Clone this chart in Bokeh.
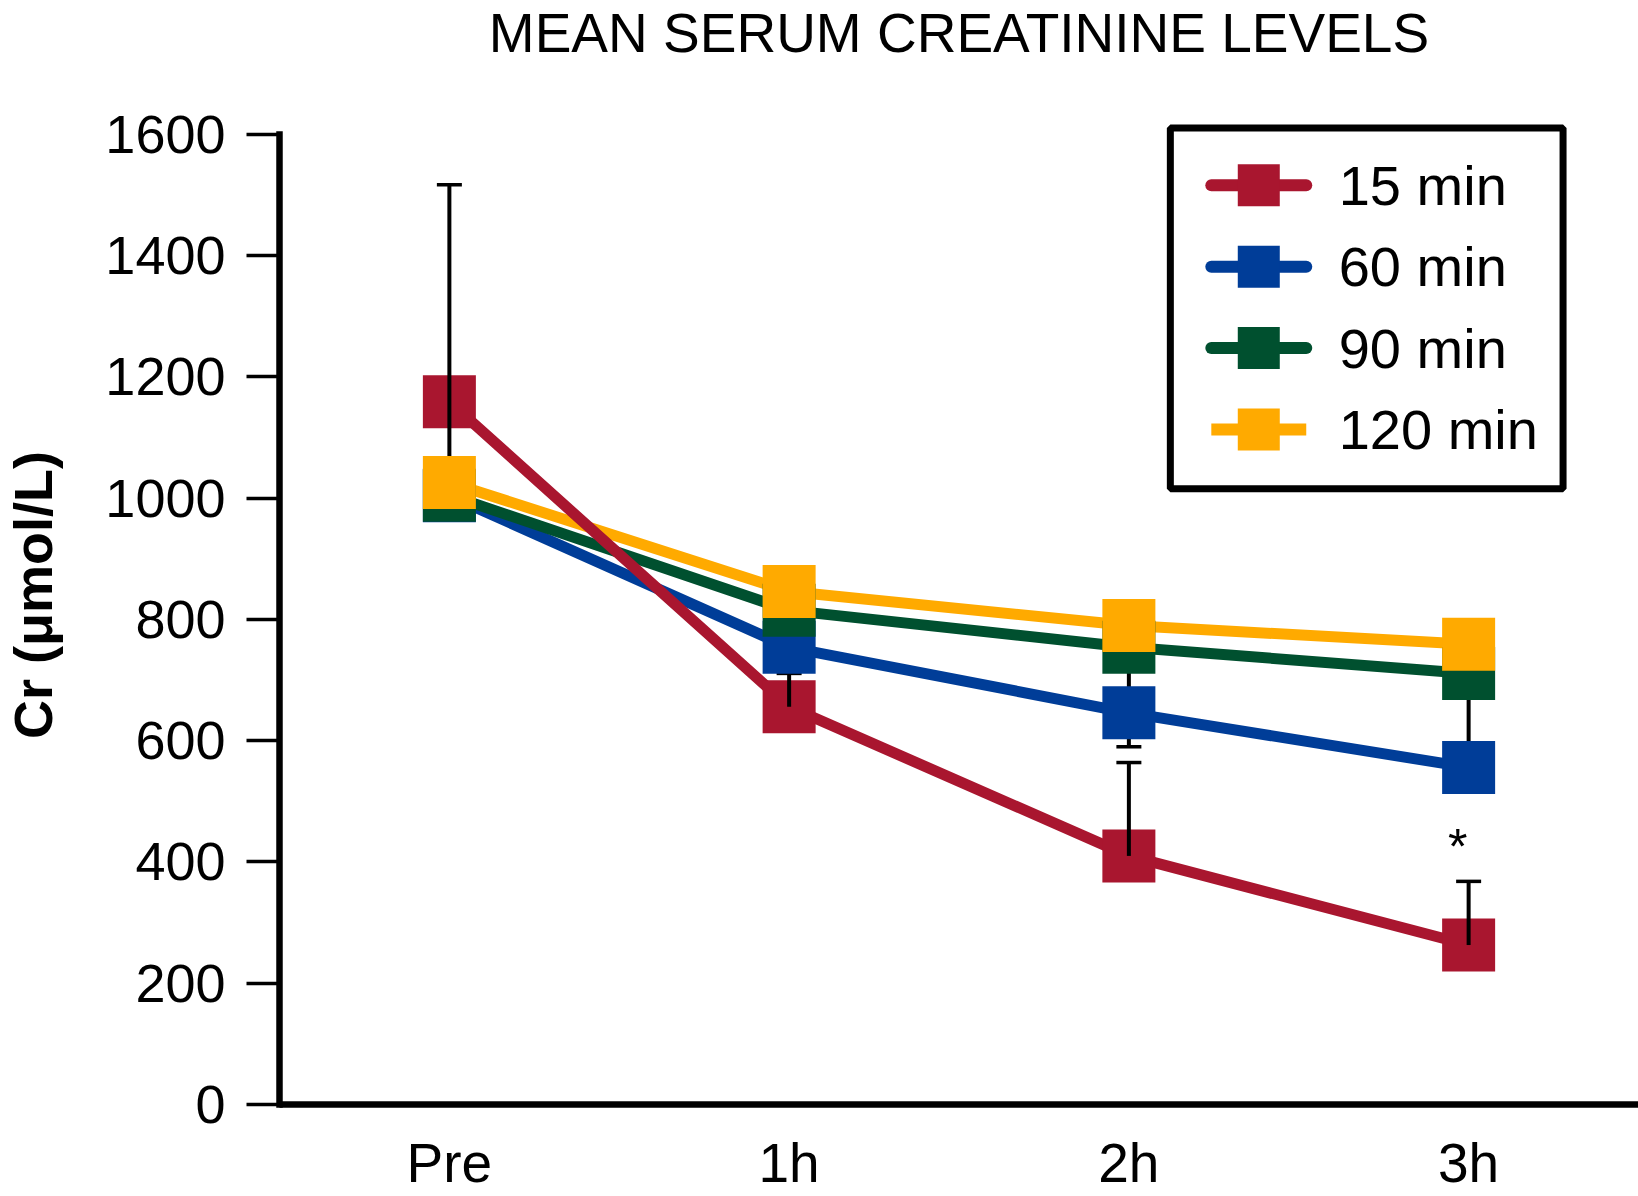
import numpy as np
from bokeh.plotting import figure
from bokeh.models import Range1d, FixedTicker, Title
from bokeh.embed import file_html
from bokeh.resources import INLINE
from bokeh.core.properties import value

# ---------------- data ----------------
timepoints = ["Pre", "1h", "2h", "3h"]
series_names = ["15 min", "60 min", "90 min", "120 min"]
cr_15 = [1159, 656, 410, 263]
cr_60 = [1004, 754, 646, 556]
cr_90 = [1005, 815, 754, 711]
cr_120 = [1026, 846, 790, 759]

# error bars: series, timepoint, start value, capped end value
err_series = ["15 min", "15 min", "15 min", "15 min", "60 min", "90 min", "90 min"]
err_time = ["Pre", "1h", "2h", "3h", "2h", "2h", "3h"]
err_start = [1050, 656, 410, 263, 646, 754, 711]
err_end = [1517, 711, 564, 368, 590, 660, 560]

sig_time = "3h"
sig_y = 425
sig_text = "*"

y_ticks = [0, 200, 400, 600, 800, 1000, 1200, 1400, 1600]
title_text = "MEAN SERUM CREATININE LEVELS"
y_label_text = "Cr (\u03bcmol/L)"

colors = {"15 min": "#A9162F", "60 min": "#003D98", "90 min": "#00502F", "120 min": "#FFAA00"}
values = {"15 min": cr_15, "60 min": cr_60, "90 min": cr_90, "120 min": cr_120}

# ---------------- layout (page px) ----------------
W, H = 1638, 1196
ML, MR, MT, MB = 278, 0, 85, 89
FW, FH = W - ML - MR, H - MT - MB
PX_Y = 0.6081
X0, X1 = -0.5, 3.5
Y0, Y1 = 0, FH / PX_Y
PX_X = FW / (X1 - X0)


def dx(px):
    return X0 + (px - ML) / PX_X


def dy(py):
    return Y0 + (MT + FH - py) / PX_Y


FONT = "Liberation Sans"
xpos = {t: i for i, t in enumerate(timepoints)}
xs = [xpos[t] for t in timepoints]

p = figure(width=W, height=H, x_range=Range1d(X0, X1), y_range=Range1d(Y0, Y1),
           output_backend="svg", toolbar_location=None,
           min_border_left=ML, min_border_right=MR, min_border_top=MT, min_border_bottom=MB)
p.grid.visible = False
p.outline_line_color = None
p.background_fill_color = "white"
p.border_fill_color = "white"

# blank spacer next to the frame, the real title above it
p.add_layout(Title(text=" ", text_font=FONT, text_font_size="12px", standoff=4,
                   text_color="white"), "above")
p.add_layout(Title(text=title_text, align="center", text_font=FONT, text_font_size="55px",
                   text_font_style="normal", text_color="black", vertical_align="top",
                   standoff=0), "above")

LW = 11
# lines (red on top of the others)
for name in ["60 min", "90 min", "120 min", "15 min"]:
    p.line(xs, values[name], line_width=LW, line_color=colors[name], line_join="round")

# red squares first
p.scatter(xs, cr_15, marker="square", size=53, fill_color=colors["15 min"], line_color=None)

# error bars
ex = [xpos[t] for t in err_time]
p.segment(x0=ex, y0=err_start, x1=ex, y1=err_end, line_width=4, line_color="black")
p.scatter(ex, err_end, marker="dash", size=25, line_width=3.5, line_color="black")

# other squares
for name in ["60 min", "90 min", "120 min"]:
    p.scatter(xs, values[name], marker="square", size=53, fill_color=colors[name], line_color=None)

# significance marker
p.text(x=[xpos[sig_time]], y=[sig_y], text=[sig_text], x_offset=-11,
       text_font=value(FONT), text_font_size="50px", text_align="center",
       text_baseline="alphabetic", text_color="black")

# axes
ya = p.yaxis[0]
ya.ticker = FixedTicker(ticks=y_ticks)
ya.bounds = (0, 1600)
ya.axis_line_width = 6.5
ya.axis_line_cap = "square"
ya.major_tick_line_width = 3.3
ya.major_tick_out = 33
ya.major_tick_in = 0
ya.minor_tick_line_color = None
ya.major_label_text_font = FONT
ya.major_label_text_font_size = "54px"
ya.major_label_text_color = "black"
ya.major_label_standoff = 21
ya.axis_label = y_label_text
ya.axis_label_text_font = FONT
ya.axis_label_text_font_size = "54px"
ya.axis_label_text_font_style = "bold"
ya.axis_label_text_color = "black"
ya.axis_label_standoff = 39

xa = p.xaxis[0]
xa.ticker = FixedTicker(ticks=xs)
xa.major_label_overrides = {i: t for i, t in enumerate(timepoints)}
xa.axis_line_width = 6.5
xa.major_tick_line_color = None
xa.major_tick_out = 0
xa.major_tick_in = 0
xa.minor_tick_line_color = None
xa.major_label_text_font = FONT
xa.major_label_text_font_size = "55px"
xa.major_label_text_color = "black"
xa.major_label_standoff = 27

# legend (drawn by hand to match the reference's proportions)
p.quad(left=[dx(1169.5)], right=[dx(1562.5)], top=[dy(127.5)], bottom=[dy(489.5)],
       fill_color="white", line_color="black", line_width=7)
row0, row_step = 185.0, 81.67
for i, name in enumerate(series_names):
    ry = row0 + row_step * i
    cap = "butt" if name == "120 min" else "round"
    p.segment(x0=[dx(1210.5)], y0=[dy(ry)], x1=[dx(1305.5)], y1=[dy(ry)],
              line_width=12, line_color=colors[name], line_cap=cap)
    p.scatter([dx(1258)], [dy(ry)], marker="square", size=42,
              fill_color=colors[name], line_color=None)
    p.text(x=[dx(1338)], y=[dy(ry)], text=[name], text_font=value(FONT),
           text_font_size="56px", text_align="left", text_baseline="alphabetic",
           text_color="black")

open("out.html", "w").write(file_html(p, INLINE))
